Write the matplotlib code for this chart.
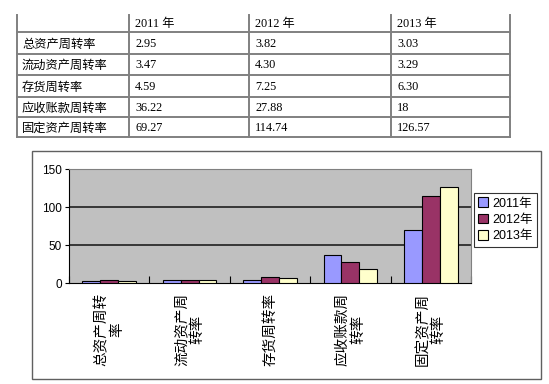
import matplotlib.pyplot as plt
from matplotlib.patches import Rectangle
import numpy as np

categories = ["总资产周转率", "流动资产周转率", "存货周转率", "应收账款周转率", "固定资产周转率"]
years = [2011, 2012, 2013]
v2011 = [2.95, 3.47, 4.59, 36.22, 69.27]
v2012 = [3.82, 4.30, 7.25, 27.88, 114.74]
v2013 = [3.03, 3.29, 6.30, 18, 126.57]
series = [v2011, v2012, v2013]
colors = ["#9999FF", "#993366", "#FFFFCC"]
y_ticks = [0, 50, 100, 150]

W, H = 549, 384
fig = plt.figure(figsize=(W / 100, H / 100), dpi=100)

# overlay in pixel coordinates for the table and chart frame
ov = fig.add_axes([0, 0, 1, 1])
ov.set_xlim(0, W)
ov.set_ylim(H, 0)
ov.axis("off")

cjk = ["Noto Sans CJK SC", "DejaVu Sans"]
serif = ["Liberation Serif", "Noto Sans CJK SC"]


def fmt(v):
    return str(int(v)) if v == int(v) else f"{v:.2f}"


# -----------------------
# table
# -----------------------
col_x = [17, 129, 249, 391, 510]
row_y = [15, 32, 54, 75, 97, 117, 137]
lc = "#808080"
for x in col_x:
    ov.plot([x, x], [row_y[0], row_y[-1]], color=lc, lw=1.4)
for y in row_y[1:]:
    ov.plot([col_x[0], col_x[-1]], [y, y], color=lc, lw=1.4)

for j, yr in enumerate(years):
    ov.text(col_x[j + 1] + 6, (row_y[0] + row_y[1]) / 2 + 1, f"{yr} 年",
            family=serif, fontsize=8.8, va="center", ha="left")
for i, cat in enumerate(categories):
    yc = (row_y[i + 1] + row_y[i + 2]) / 2 + 1
    ov.text(col_x[0] + 5, yc, cat, family=cjk, fontsize=8.8, va="center", ha="left")
    for j, s in enumerate(series):
        ov.text(col_x[j + 1] + 6, yc, fmt(s[i]), family=serif, fontsize=8.8,
                va="center", ha="left")

# chart frame
ov.add_patch(Rectangle((32, 151), 509, 228, fill=False, ec="#606060", lw=1.0))

# -----------------------
# bar chart
# -----------------------
ax = fig.add_axes([69 / W, (H - 283) / H, 402 / W, 114 / H])
ax.set_facecolor("#C0C0C0")
x = np.arange(len(categories))
w = 1 / 4.5
for k, (s, c) in enumerate(zip(series, colors)):
    ax.bar(x + (k - 1) * w, s, w, color=c, edgecolor="black", lw=0.8,
           label=f"{years[k]}年", zorder=3)

ax.set_xlim(-0.5, len(categories) - 0.5)
ax.set_ylim(0, 150)
ax.set_yticks(y_ticks)
ax.set_yticklabels([str(t) for t in y_ticks], family=["Liberation Sans"], fontsize=8.5)
ax.tick_params(axis="y", direction="out", length=3, width=0.8, pad=2)
for t in y_ticks[1:-1]:
    ax.axhline(t, color="#202020", lw=1.2, zorder=1)

ax.set_xticks(x)
ax.set_xticklabels([])
ax.tick_params(axis="x", length=0)
ax.set_xticks(np.arange(len(categories) + 1) - 0.5, minor=True)
ax.tick_params(axis="x", which="minor", direction="in", length=5, width=0.8)

for i, cat in enumerate(categories):
    lab = "\n".join(cat[k:k + 5] for k in range(0, len(cat), 5))
    ax.text(i, -13, lab, family=cjk, fontsize=10.5, rotation=90, ha="center", va="top",
            multialignment="center", linespacing=1.15)

ax.spines["left"].set_color("black")
ax.spines["bottom"].set_color("black")
ax.spines["top"].set_color("#808080")
ax.spines["right"].set_color("#808080")

leg = ax.legend(loc="upper left", bbox_to_anchor=(474 / W, 1 - 193 / H),
                bbox_transform=fig.transFigure, frameon=True, fancybox=False,
                prop={"family": ["Liberation Sans", "Noto Sans CJK SC"], "size": 9},
                handlelength=0.8, handleheight=0.8, handletextpad=0.3,
                borderpad=0.35, labelspacing=0.35, borderaxespad=0)
leg.get_frame().set_edgecolor("black")
leg.get_frame().set_linewidth(0.8)

fig.savefig("out.png", dpi=100)
